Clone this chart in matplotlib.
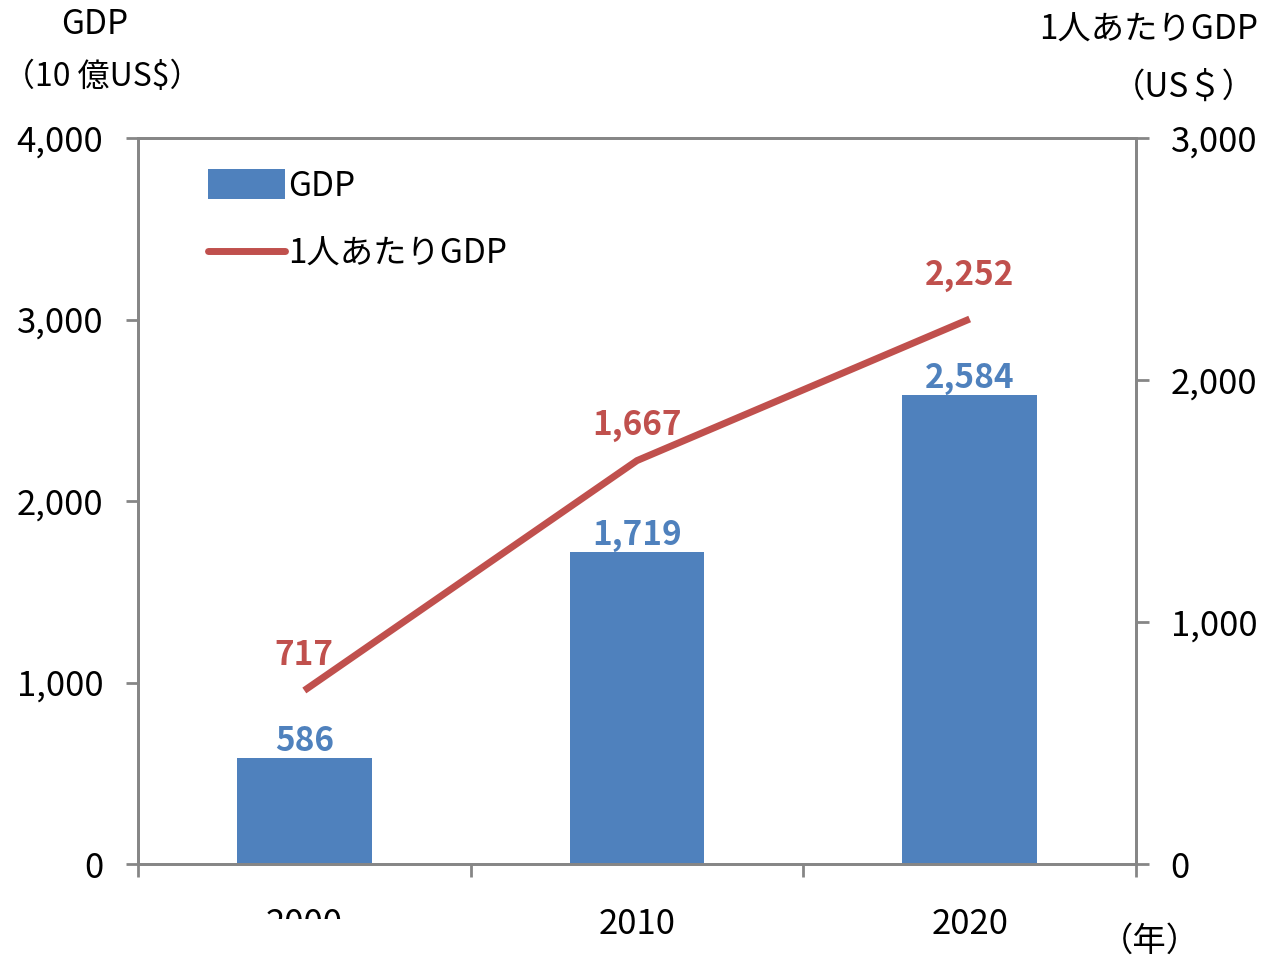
import matplotlib
matplotlib.use("Agg")
import matplotlib.pyplot as plt
from matplotlib.transforms import Bbox
import numpy as np

plt.rcParams['font.family'] = ['Liberation Sans Narrow', 'Noto Sans CJK JP', 'DejaVu Sans']

years = ['2000', '2010', '2020']
gdp = [586, 1719, 2584]
gdp_per_capita = [717, 1667, 2252]
gdp_labels = ['586', '1,719', '2,584']
pc_labels = ['717', '1,667', '2,252']
left_ticks = [0, 1000, 2000, 3000, 4000]
right_ticks = [0, 1000, 2000, 3000]

BLUE = '#4F81BD'
RED = '#C0504D'
GRAY = '#868686'

fig = plt.figure(figsize=(12.63, 9.6), dpi=100)
ax = fig.add_axes([138/1263, 96/960, (1136-138)/1263, (864-138)/960])
ax2 = ax.twinx()

x = np.arange(len(years))
bars = ax.bar(x, gdp, width=0.405, color=BLUE, zorder=2, label='GDP')
line, = ax2.plot(x, gdp_per_capita, color=RED, lw=5, solid_capstyle='butt',
                 zorder=3, label='1人あたりGDP')

ax.set_xlim(-0.5, 2.5)
ax.set_ylim(0, 4000)
ax2.set_ylim(0, 3000)
ax.set_yticks(left_ticks)
ax.set_yticklabels([f'{v:,}' for v in left_ticks])
ax2.set_yticks(right_ticks)
ax2.set_yticklabels([f'{v:,}' for v in right_ticks])

ax.set_xticks(x)
ax.set_xticklabels([])
ax.set_xticks([-0.5, 0.5, 1.5, 2.5], minor=True)
ax.tick_params(axis='x', which='major', length=0)
ax.tick_params(axis='x', which='minor', length=9, width=2, color=GRAY, direction='out')
ax.tick_params(axis='y', length=9, width=2, color=GRAY, direction='out', labelsize=25, pad=16)
ax2.tick_params(axis='y', length=9, width=2, color=GRAY, direction='out', labelsize=25, pad=16)

for a in (ax, ax2):
    for s in a.spines.values():
        s.set_color(GRAY)
        s.set_linewidth(2)

# x tick labels as text (the 2000 label is clipped at its bottom in the reference)
for i, yr in enumerate(years):
    t = ax.annotate(yr, xy=(x[i], 0), xycoords=('data', 'axes fraction'),
                    xytext=(0, -43.5), textcoords='offset points',
                    ha='center', va='center', fontsize=25)
    if i == 0:
        t.set_clip_on(True)
        t.set_clip_box(Bbox([[0, 41], [1263, 960]]))

# bar value labels
for i, v in enumerate(gdp):
    ax.annotate(gdp_labels[i], xy=(x[i], v), xytext=(0, 0), textcoords='offset points',
                ha='center', va='bottom', fontsize=24, fontweight='bold', color=BLUE, zorder=4)

# line value labels
pc_offsets = [25, 25, 31]
for i, v in enumerate(gdp_per_capita):
    ax2.annotate(pc_labels[i], xy=(x[i], v), xytext=(0, pc_offsets[i]), textcoords='offset points',
                 ha='center', va='center', fontsize=24, fontweight='bold', color=RED, zorder=4)

leg = ax.legend([bars, line], ['GDP', '1人あたりGDP'], loc='upper left',
                bbox_to_anchor=(0.04, 0.999), frameon=False, fontsize=24,
                handlelength=2.3, handleheight=1.0, labelspacing=1.0, handletextpad=0.1)
leg.legend_handles[1].set_linewidth(5)
leg.legend_handles[1].set_solid_capstyle('round')

# axis titles
fig.text(95/1263, 1 - 25/960, 'GDP', ha='center', va='center', fontsize=24)
fig.text(3/1263, 1 - 77/960, '（10 億US$）', ha='left', va='center', fontsize=23)
fig.text(1258/1263, 1 - 30/960, '1人あたりGDP', ha='right', va='center', fontsize=24)
fig.text(1256/1263, 1 - 87/960, '（US＄）', ha='right', va='center', fontsize=24)
fig.text(1150/1263, 1 - 941/960, '（年）', ha='center', va='center', fontsize=24)

fig.savefig('out.png', dpi=100)
